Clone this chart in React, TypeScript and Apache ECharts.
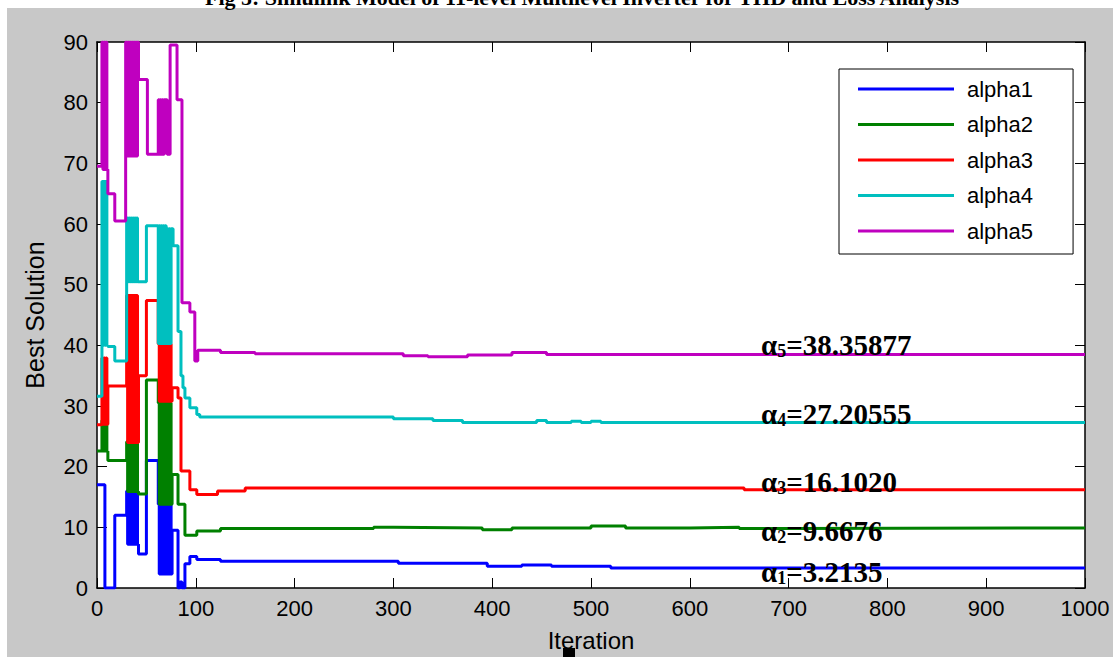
import React, { useEffect, useRef } from "react";
import * as echarts from "echarts";

const seriesNames = ["alpha1", "alpha2", "alpha3", "alpha4", "alpha5"];
const seriesColors = ["#0000ff", "#008000", "#ff0000", "#00bfbf", "#bf00bf"];

const xTicks = { min: 0, max: 1000, interval: 100 };
const yTicks = { min: 0, max: 90, interval: 10 };

const alpha1: [number, number][] = [
  [0, 17], [8, 0], [18, 12],
  [30, 16], [31, 7.2], [32, 16], [33, 7.2], [34, 16], [35, 7.2], [36, 16], [37, 7.2], [38, 16], [39, 7.2], [40, 16], [41, 7.2],
  [42, 5.6], [50, 21],
  [62, 13.8], [63, 2.3], [64, 13.8], [65, 2.3], [66, 13.8], [67, 2.3], [68, 13.8], [69, 2.3], [70, 13.8], [71, 2.3], [72, 13.8], [73, 2.3], [74, 13.8], [75, 2.3],
  [76, 9.5], [82, 0], [84, 1], [86, 0], [89, 4], [94, 5.2], [101, 4.7], [125, 4.4],
  [305, 4.1], [395, 3.6], [430, 3.8], [460, 3.6], [520, 3.3], [1000, 3.3],
];

const alpha2: [number, number][] = [
  [0, 22.6], [5, 27.6], [6, 22.6], [7, 27.6], [8, 22.6], [9, 27.6], [10, 22.6],
  [11, 21],
  [30, 24.1], [31, 15.9], [32, 24.1], [33, 15.9], [34, 24.1], [35, 15.9], [36, 24.1], [37, 15.9], [38, 24.1], [39, 15.9], [40, 24.1], [41, 15.9],
  [42, 15.5], [50, 34.3],
  [62, 30.5], [63, 13.8], [64, 30.5], [65, 13.8], [66, 30.5], [67, 13.8], [68, 30.5], [69, 13.8], [70, 30.5], [71, 13.8], [72, 30.5], [73, 13.8], [74, 30.5], [75, 13.8],
  [76, 18.7], [82, 13.8], [89, 8.7], [101, 9.4], [125, 9.8],
  [280, 10.0], [300, 9.9], [390, 9.6], [420, 9.9], [500, 10.2], [535, 9.9], [600, 10.0], [650, 9.8], [700, 9.9], [1000, 9.9],
];

const alpha3: [number, number][] = [
  [0, 26.9], [5, 37.9], [6, 27], [7, 37.9], [8, 27], [9, 37.9], [10, 27],
  [11, 33.3],
  [30, 48.2], [31, 24], [32, 48.2], [33, 24], [34, 48.2], [35, 24], [36, 48.2], [37, 24], [38, 48.2], [39, 24], [40, 48.2], [41, 24],
  [42, 35], [50, 47.4],
  [62, 40.2], [63, 30.8], [64, 40.2], [65, 30.8], [66, 40.2], [67, 30.8], [68, 40.2], [69, 30.8], [70, 40.2], [71, 30.8], [72, 40.2], [73, 30.8], [74, 40.2], [75, 30.8],
  [76, 33], [82, 31.3], [85, 19.3], [94, 16.2], [101, 15.4], [122, 16.0], [150, 16.5],
  [655, 16.2], [1000, 16.2],
];

const alpha4: [number, number][] = [
  [0, 31.6], [5, 67], [6, 40], [7, 67], [8, 40], [9, 67], [10, 40],
  [11, 39.8], [18, 37.4],
  [30, 61], [31, 50.5], [32, 61], [33, 50.5], [34, 61], [35, 50.5], [36, 61], [37, 50.5], [38, 61], [39, 50.5], [40, 61], [41, 50.5],
  [42, 50.5], [50, 59.7],
  [62, 40.3], [63, 59.7], [64, 40.3], [65, 59.7], [66, 40.3], [67, 59.7], [68, 40.3], [69, 59.7], [70, 40.3], [71, 59.2], [72, 40.3], [73, 59.2], [74, 40.3], [75, 59.2],
  [77, 56.4], [82, 42.3], [85, 35], [87, 33], [89, 31.3], [94, 29.7], [101, 28.6], [104, 28.2],
  [300, 27.9], [340, 27.6], [370, 27.3], [445, 27.6], [455, 27.3], [480, 27.5], [490, 27.3], [500, 27.5], [510, 27.3], [1000, 27.3],
];

const alpha5: [number, number][] = [
  [0, 69.5], [5, 90], [6, 69], [7, 90], [8, 69], [9, 90], [10, 69],
  [11, 65], [18, 60.5],
  [29, 90], [30, 71.2], [31, 90], [32, 71.2], [33, 90], [34, 71.2], [35, 90], [36, 71.2], [37, 90], [38, 71.2], [39, 90], [40, 71.2], [41, 90],
  [42, 83.8], [51, 71.5],
  [62, 80.5], [63, 71.5], [64, 80.5], [65, 71.5], [66, 80.5], [67, 71.5], [68, 80.5],
  [71, 71.5], [74, 89.5], [81, 80.5], [86, 47], [94, 45.5], [99, 37.4], [102, 39.2],
  [125, 38.8], [160, 38.6], [310, 38.3], [335, 38.1], [375, 38.4], [420, 38.8], [455, 38.5], [1000, 38.5],
];

const seriesData = [alpha1, alpha2, alpha3, alpha4, alpha5];

const annotations = [
  { sub: "5", value: "=38.35877", y: 345 },
  { sub: "4", value: "=27.20555", y: 414 },
  { sub: "3", value: "=16.1020", y: 482 },
  { sub: "2", value: "=9.6676", y: 531 },
  { sub: "1", value: "=3.2135", y: 572 },
];

const titleText = "Fig 5: Simulink Model of 11-level Multilevel Inverter for THD and Loss Analysis";

const sans = '"Liberation Sans", Arial, sans-serif';
const serif = '"Liberation Serif", "Times New Roman", serif';

export default function App() {
  const ref = useRef<HTMLDivElement>(null);
  useEffect(() => {
    document.body.style.margin = "0";
    if (!ref.current) return;
    const chart = echarts.init(ref.current, undefined, { renderer: "svg" });

    const axisCommon = {
      type: "value" as const,
      axisLine: { show: true, onZero: false, lineStyle: { color: "#000", width: 1.5 } },
      axisTick: { show: true, inside: true, length: 10, lineStyle: { color: "#000", width: 1 } },
      splitLine: { show: false },
    };

    chart.setOption({
      animation: false,
      backgroundColor: "#c8c8c8",
      grid: {
        left: 97, top: 42, right: 28, bottom: 66,
        show: true, backgroundColor: "#ffffff", borderWidth: 0,
      },
      legend: {
        orient: "vertical",
        left: 839, top: 69,
        data: seriesNames,
        icon: "rect",
        itemWidth: 96, itemHeight: 3,
        itemGap: 13.5,
        padding: [9, 40, 12, 19],
        backgroundColor: "#ffffff",
        borderColor: "#000",
        borderWidth: 1,
        borderRadius: 0,
        textStyle: { fontFamily: sans, fontSize: 22, color: "#000", lineHeight: 22, padding: [0, 0, 0, 8] },
      },
      xAxis: [
        {
          ...axisCommon, position: "bottom", ...xTicks,
          axisLabel: { fontFamily: sans, fontSize: 22, color: "#000", margin: 9, formatter: (v: number) => String(v) },
          name: "Iteration", nameLocation: "middle", nameGap: 40,
          nameTextStyle: { fontFamily: sans, fontSize: 24, color: "#000" },
        },
        { ...axisCommon, position: "top", ...xTicks, axisLabel: { show: false } },
      ],
      yAxis: [
        {
          ...axisCommon, position: "left", ...yTicks,
          axisLabel: { fontFamily: sans, fontSize: 22, color: "#000", margin: 9, formatter: (v: number) => String(v) },
          name: "Best Solution", nameLocation: "middle", nameGap: 50, nameRotate: 90,
          nameTextStyle: { fontFamily: sans, fontSize: 25, color: "#000" },
        },
        { ...axisCommon, position: "right", ...yTicks, axisLabel: { show: false } },
      ],
      series: seriesNames.map((name, i) => ({
        name,
        type: "line",
        step: "end",
        xAxisIndex: 0,
        yAxisIndex: 0,
        symbol: "none",
        color: seriesColors[i],
        lineStyle: { width: 3, color: seriesColors[i] },
        data: seriesData[i],
      })),
      graphic: [
        { type: "rect", shape: { x: 0, y: 0, width: 1113, height: 8 }, style: { fill: "#ffffff" }, silent: true },
        { type: "rect", shape: { x: 0, y: 0, width: 7, height: 657 }, style: { fill: "#ffffff" }, silent: true },
        {
          type: "text", x: 582, y: -3, z: 10,
          style: { text: titleText, fontFamily: serif, fontWeight: "bold", fontSize: 22, fill: "#000", align: "center", verticalAlign: "middle" },
        },
        ...annotations.map((a) => ({
          type: "text", x: 761, y: a.y, z: 10,
          style: {
            text: `{a|α}{s|${a.sub}}{a|${a.value}}`,
            verticalAlign: "middle",
            align: "left",
            rich: {
              a: { fontFamily: serif, fontWeight: "bold", fontSize: 29, fill: "#000", color: "#000", lineHeight: 29 },
              s: { fontFamily: serif, fontWeight: "bold", fontSize: 18, fill: "#000", color: "#000", verticalAlign: "bottom", lineHeight: 18 },
            },
          },
        })),
        { type: "rect", shape: { x: 563, y: 648, width: 12, height: 9 }, style: { fill: "#000" }, z: 10 },
      ],
    });
    return () => chart.dispose();
  }, []);
  return <div ref={ref} style={{ position: "absolute", left: 0, top: 0, width: 1113, height: 657 }} />;
}
